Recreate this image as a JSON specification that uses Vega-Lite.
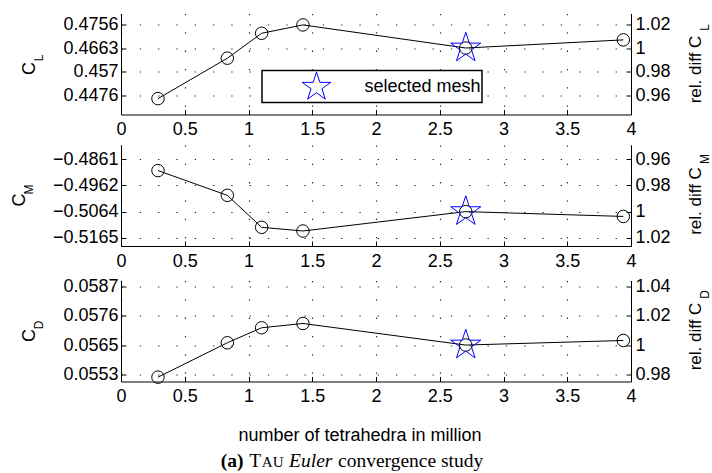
{
  "$schema": "https://vega.github.io/schema/vega-lite/v6.json",
  "padding": {"left": 10, "top": 13.5, "right": 0, "bottom": 0},
  "datasets": {
    "cl": [
      {"mesh": 0.29, "value": 0.44635, "selected": false},
      {"mesh": 0.834, "value": 0.46229, "selected": false},
      {"mesh": 1.103, "value": 0.4721, "selected": false},
      {"mesh": 1.427, "value": 0.4754, "selected": false},
      {"mesh": 2.704, "value": 0.4663, "selected": true},
      {"mesh": 3.94, "value": 0.46951, "selected": false}
    ],
    "cm": [
      {"mesh": 0.29, "value": -0.49056, "selected": false},
      {"mesh": 0.834, "value": -0.50009, "selected": false},
      {"mesh": 1.103, "value": -0.51241, "selected": false},
      {"mesh": 1.427, "value": -0.51382, "selected": false},
      {"mesh": 2.704, "value": -0.50636, "selected": true},
      {"mesh": 3.94, "value": -0.50821, "selected": false}
    ],
    "cd": [
      {"mesh": 0.29, "value": 0.055227, "selected": false},
      {"mesh": 0.834, "value": 0.056548, "selected": false},
      {"mesh": 1.103, "value": 0.057124, "selected": false},
      {"mesh": 1.427, "value": 0.057289, "selected": false},
      {"mesh": 2.704, "value": 0.05646, "selected": true},
      {"mesh": 3.94, "value": 0.056636, "selected": false}
    ],
    "caption": [
      {"a": "(a)", "t": "T", "au": "AU", "e": "Euler", "c": "convergence study", "blank": ""}
    ]
  },
  "spacing": 6.5,
  "vconcat": [
    {
      "width": 510, "height": 101,
      "data": {"name": "cl"},
      "encoding": {
        "x": {"field": "mesh", "type": "quantitative", "scale": {"domain": [0, 4], "nice": false},
          "axis": {"values": [0, 0.5, 1, 1.5, 2, 2.5, 3, 3.5, 4], "format": "~g", "labelFlush": false, "labelOverlap": false, "tickSize": -5, "labelPadding": 11, "title": null}}
      },
      "layer": [
        {"mark": {"type": "line", "color": "black", "strokeWidth": 1},
         "encoding": {"y": {"field": "value", "type": "quantitative", "scale": {"domain": [0.4401, 0.4799], "nice": false, "zero": false},
           "axis": {"orient": "left", "values": [0.447648, 0.456974, 0.4663, 0.475626], "labelExpr": "format(datum.value, '.4~f')", "grid": true, "tickSize": -5, "labelPadding": 8, "title": "C", "titleX": -87, "titleY": 54.5}}}},
        {"transform": [{"filter": "!datum.selected"}],
         "mark": {"type": "point", "shape": "circle", "filled": false, "size": 156, "color": "black", "strokeWidth": 1, "opacity": 1},
         "encoding": {"y": {"field": "value", "type": "quantitative", "scale": {"domain": [0.4401, 0.4799], "nice": false, "zero": false},
           "axis": {"orient": "left", "labels": false, "ticks": false, "domain": false, "grid": false, "title": "L", "titleFontSize": 12, "titleX": -79, "titleY": 44}}}},
        {"transform": [{"filter": "datum.selected"}],
         "mark": {"type": "point", "shape": "circle", "filled": false, "size": 156, "color": "black", "strokeWidth": 1, "opacity": 1},
         "encoding": {"y": {"field": "value", "type": "quantitative", "scale": {"domain": [0.4401, 0.4799], "nice": false, "zero": false},
           "axis": {"orient": "right", "labels": false, "ticks": false, "domain": false, "grid": false, "title": "L", "titleFontSize": 12, "titleAngle": 270, "titleX": 77.5, "titleY": 13.5}}}},
        {"transform": [{"filter": "datum.selected"}],
         "mark": {"type": "point", "filled": false, "size": 1000, "strokeWidth": 1, "opacity": 1},
         "encoding": {
           "y": {"field": "value", "type": "quantitative", "scale": {"domain": [0.4401, 0.4799], "nice": false, "zero": false},
             "axis": {"orient": "right", "values": [0.447648, 0.456974, 0.4663, 0.475626], "labelExpr": "format(datum.value / 0.4663, '.2~f')", "grid": false, "tickSize": -5, "labelPadding": 9, "title": "rel. diff C", "titleFontSize": 17, "titleAngle": 270, "titleX": 69.5, "titleY": 55.5}},
           "shape": {"datum": "selected mesh", "scale": {"range": ["M0,-1L0.2245,-0.309L0.951,-0.309L0.363,0.118L0.588,0.809L0,0.382L-0.588,0.809L-0.363,0.118L-0.951,-0.309L-0.2245,-0.309Z"]}, "legend": null},
           "color": {"datum": "selected mesh", "scale": {"range": ["#0000ff"]},
             "legend": {"orient": "none", "legendX": 141, "legendY": 57, "title": null, "symbolType": "M0,-1L0.2245,-0.309L0.951,-0.309L0.363,0.118L0.588,0.809L0,0.382L-0.588,0.809L-0.363,0.118L-0.951,-0.309L-0.2245,-0.309Z", "symbolSize": 900, "symbolStrokeWidth": 1, "symbolFillColor": "transparent", "strokeColor": "black", "fillColor": "white", "padding": 1, "labelFontSize": 18, "labelOffset": 32.5, "symbolOffset": 38, "labelColor": "black"}}
         }}
      ],
      "resolve": {"axis": {"y": "independent"}}
    },
    {
      "width": 510, "height": 101,
      "data": {"name": "cm"},
      "encoding": {
        "x": {"field": "mesh", "type": "quantitative", "scale": {"domain": [0, 4], "nice": false},
          "axis": {"values": [0, 0.5, 1, 1.5, 2, 2.5, 3, 3.5, 4], "format": "~g", "labelFlush": false, "labelOverlap": false, "tickSize": -5, "labelPadding": 11, "title": null}}
      },
      "layer": [
        {"mark": {"type": "line", "color": "black", "strokeWidth": 1},
         "encoding": {"y": {"field": "value", "type": "quantitative", "scale": {"domain": [-0.5196, -0.4807], "nice": false, "zero": false},
           "axis": {"orient": "left", "values": [-0.4861056, -0.4962328, -0.50636, -0.5164872], "labelExpr": "format(datum.value, '.4~f')", "grid": true, "tickSize": -5, "labelPadding": 8, "title": "C", "titleX": -97, "titleY": 54.5}}}},
        {"transform": [{"filter": "!datum.selected"}],
         "mark": {"type": "point", "shape": "circle", "filled": false, "size": 156, "color": "black", "strokeWidth": 1, "opacity": 1},
         "encoding": {"y": {"field": "value", "type": "quantitative", "scale": {"domain": [-0.5196, -0.4807], "nice": false, "zero": false},
           "axis": {"orient": "left", "labels": false, "ticks": false, "domain": false, "grid": false, "title": "M", "titleFontSize": 12, "titleX": -89, "titleY": 44}}}},
        {"transform": [{"filter": "datum.selected"}],
         "mark": {"type": "point", "shape": "circle", "filled": false, "size": 156, "color": "black", "strokeWidth": 1, "opacity": 1},
         "encoding": {"y": {"field": "value", "type": "quantitative", "scale": {"domain": [-0.5196, -0.4807], "nice": false, "zero": false},
           "axis": {"orient": "right", "labels": false, "ticks": false, "domain": false, "grid": false, "title": "M", "titleFontSize": 12, "titleAngle": 270, "titleX": 77.5, "titleY": 13.5}}}},
        {"transform": [{"filter": "datum.selected"}],
         "mark": {"type": "point", "shape": "M0,-1L0.2245,-0.309L0.951,-0.309L0.363,0.118L0.588,0.809L0,0.382L-0.588,0.809L-0.363,0.118L-0.951,-0.309L-0.2245,-0.309Z", "filled": false, "size": 1000, "strokeWidth": 1, "color": "#0000ff", "opacity": 1},
         "encoding": {
           "y": {"field": "value", "type": "quantitative", "scale": {"domain": [-0.5196, -0.4807], "nice": false, "zero": false},
             "axis": {"orient": "right", "values": [-0.4861056, -0.4962328, -0.50636, -0.5164872], "labelExpr": "format(datum.value / -0.50636, '.2~f')", "grid": false, "tickSize": -5, "labelPadding": 9, "title": "rel. diff C", "titleFontSize": 17, "titleAngle": 270, "titleX": 69.5, "titleY": 55.5}}
         }}
      ],
      "resolve": {"axis": {"y": "independent"}}
    },
    {
      "width": 510, "height": 101,
      "data": {"name": "cd"},
      "encoding": {
        "x": {"field": "mesh", "type": "quantitative", "scale": {"domain": [0, 4], "nice": false},
          "axis": {"values": [0, 0.5, 1, 1.5, 2, 2.5, 3, 3.5, 4], "format": "~g", "labelFlush": false, "labelOverlap": false, "tickSize": -5, "labelPadding": 11, "title": "number of tetrahedra in million", "titleX": 238.5, "titleY": 59}}
      },
      "layer": [
        {"mark": {"type": "line", "color": "black", "strokeWidth": 1},
         "encoding": {"y": {"field": "value", "type": "quantitative", "scale": {"domain": [0.05506, 0.05894], "nice": false, "zero": false},
           "axis": {"orient": "left", "values": [0.0553308, 0.05646, 0.0575892, 0.0587184], "labelExpr": "format(datum.value, '.4~f')", "grid": true, "tickSize": -5, "labelPadding": 8, "title": "C", "titleX": -87, "titleY": 54.5}}}},
        {"transform": [{"filter": "!datum.selected"}],
         "mark": {"type": "point", "shape": "circle", "filled": false, "size": 156, "color": "black", "strokeWidth": 1, "opacity": 1},
         "encoding": {"y": {"field": "value", "type": "quantitative", "scale": {"domain": [0.05506, 0.05894], "nice": false, "zero": false},
           "axis": {"orient": "left", "labels": false, "ticks": false, "domain": false, "grid": false, "title": "D", "titleFontSize": 12, "titleX": -79, "titleY": 44}}}},
        {"transform": [{"filter": "datum.selected"}],
         "mark": {"type": "point", "shape": "circle", "filled": false, "size": 156, "color": "black", "strokeWidth": 1, "opacity": 1},
         "encoding": {"y": {"field": "value", "type": "quantitative", "scale": {"domain": [0.05506, 0.05894], "nice": false, "zero": false},
           "axis": {"orient": "right", "labels": false, "ticks": false, "domain": false, "grid": false, "title": "D", "titleFontSize": 12, "titleAngle": 270, "titleX": 77.5, "titleY": 13.5}}}},
        {"transform": [{"filter": "datum.selected"}],
         "mark": {"type": "point", "shape": "M0,-1L0.2245,-0.309L0.951,-0.309L0.363,0.118L0.588,0.809L0,0.382L-0.588,0.809L-0.363,0.118L-0.951,-0.309L-0.2245,-0.309Z", "filled": false, "size": 1000, "strokeWidth": 1, "color": "#0000ff", "opacity": 1},
         "encoding": {
           "y": {"field": "value", "type": "quantitative", "scale": {"domain": [0.05506, 0.05894], "nice": false, "zero": false},
             "axis": {"orient": "right", "values": [0.0553308, 0.05646, 0.0575892, 0.0587184], "labelExpr": "format(datum.value / 0.05646, '.2~f')", "grid": false, "tickSize": -5, "labelPadding": 9, "title": "rel. diff C", "titleFontSize": 17, "titleAngle": 270, "titleX": 69.5, "titleY": 55.5}}
         }}
      ],
      "resolve": {"axis": {"y": "independent"}}
    },
    {
      "data": {"name": "caption"},
      "bounds": "flush",
      "spacing": 0,
      "hconcat": [
        {"width": 99, "height": 32, "mark": {"type": "text"}, "encoding": {"text": {"field": "blank"}}},
        {"width": 24.1, "height": 32, "mark": {"type": "text", "font": "Liberation Serif", "fontSize": 19.5, "fontWeight": "bold", "baseline": "alphabetic", "align": "center", "color": "black"}, "encoding": {"text": {"field": "a"}}},
        {"width": 20.3, "height": 32, "mark": {"type": "text", "font": "Liberation Serif", "fontSize": 19.5, "baseline": "alphabetic", "align": "center", "color": "black"}, "encoding": {"text": {"field": "t"}}},
        {"width": 13.3, "height": 32, "mark": {"type": "text", "font": "Liberation Serif", "fontSize": 15, "baseline": "alphabetic", "align": "center", "color": "black"}, "encoding": {"text": {"field": "au"}}},
        {"width": 61.5, "height": 32, "mark": {"type": "text", "font": "Liberation Serif", "fontSize": 19.5, "fontStyle": "italic", "baseline": "alphabetic", "align": "center", "color": "black"}, "encoding": {"text": {"field": "e"}}},
        {"width": 137.3, "height": 32, "mark": {"type": "text", "font": "Liberation Serif", "fontSize": 19.5, "baseline": "alphabetic", "align": "center", "color": "black"}, "encoding": {"text": {"field": "c"}}}
      ]
    }
  ],
  "resolve": {"scale": {"color": "independent", "shape": "independent"}, "legend": {"color": "independent", "shape": "independent"}},
  "config": {
    "font": "Liberation Sans",
    "view": {"stroke": null},
    "axis": {"labelFont": "Liberation Sans", "titleFont": "Liberation Sans", "labelFontSize": 18, "titleFontSize": 18, "titleFontWeight": "normal", "labelColor": "black", "titleColor": "black", "domainColor": "black", "tickColor": "black", "domainWidth": 1, "tickWidth": 1, "gridColor": "#222222", "gridDash": [1.3, 17], "gridWidth": 1.2, "gridOpacity": 1, "titleBaseline": "alphabetic", "titleAlign": "center"},
    "axisY": {"titleAngle": 270},
    "legend": {"labelFont": "Liberation Sans", "strokeWidth": 1.5}
  }
}
